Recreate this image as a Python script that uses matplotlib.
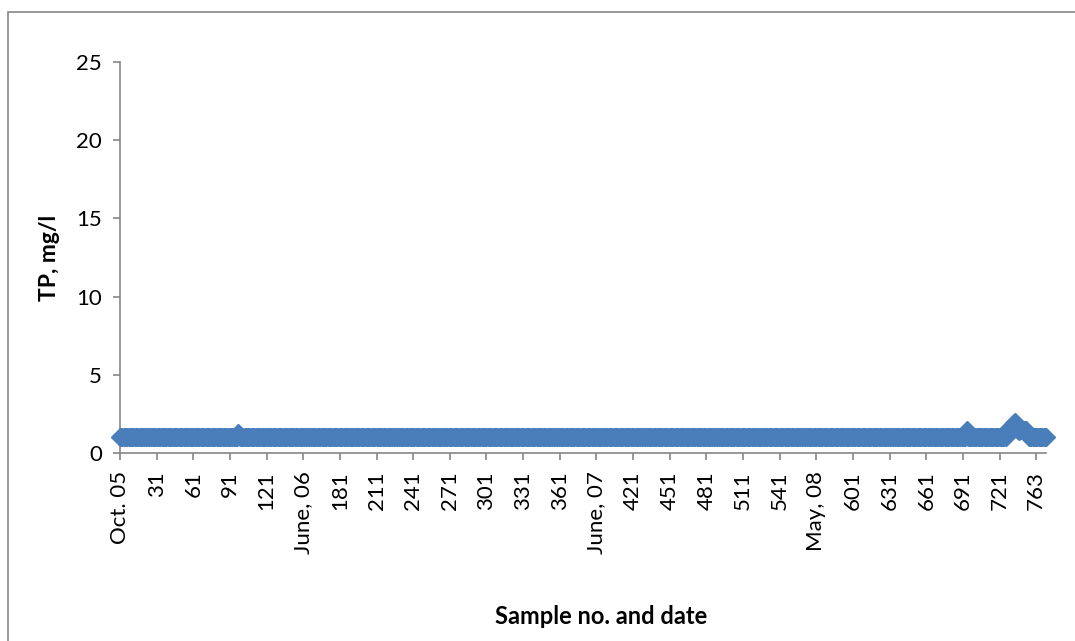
import matplotlib.pyplot as plt
from matplotlib.patches import Rectangle
import numpy as np

# samples (category positions) and TP values, mg/l
n_samples = 759
tp_base = 1.0
# samples with readings above the base level (index: value)
tp_peaks = {97: 1.3, 693: 1.5,
            726: 1.5, 727: 1.5, 728: 1.35, 729: 1.4, 730: 1.5, 731: 1.7,
            732: 1.9, 733: 2.0, 734: 1.8, 735: 1.5, 736: 1.4, 737: 1.45,
            738: 1.5, 739: 1.5, 740: 1.5, 741: 1.5, 742: 1.45, 743: 1.3}

tick_pos = list(range(0, 751, 30))
tick_labels = ['Oct. 05', '31', '61', '91', '121', 'June, 06', '181', '211', '241',
               '271', '301', '331', '361', 'June, 07', '421', '451', '481', '511',
               '541', 'May, 08', '601', '631', '661', '691', '721', '763']
y_ticks = [0, 5, 10, 15, 20, 25]

tp = np.full(n_samples, tp_base)
for k, v in tp_peaks.items():
    tp[k] = v
x = np.arange(n_samples)

plt.rcParams['font.family'] = ['Lato', 'DejaVu Sans']
fig = plt.figure(figsize=(10.75, 6.41), dpi=100)
ax = fig.add_axes([120/1075, 1 - 453/641, (1046 - 120)/1075, (453 - 62)/641])

ax.plot(x, tp, 'D', ms=9, color='#4a7ebb', mec='#4a7ebb', clip_on=False, zorder=3)

ax.set_xlim(0, n_samples - 1)
ax.set_ylim(0, 25)
ax.set_yticks(y_ticks)
ax.set_xticks(tick_pos)
ax.set_xticklabels(tick_labels, rotation=90)

for s in ['top', 'right']:
    ax.spines[s].set_visible(False)
for s in ['left', 'bottom']:
    ax.spines[s].set_color('#868686')
    ax.spines[s].set_linewidth(1.2)
ax.tick_params(axis='both', colors='#868686', labelcolor='black', labelsize=16,
               length=5, width=1.2)
ax.tick_params(axis='y', pad=8)
ax.tick_params(axis='x', pad=8)

ax.set_ylabel('TP, mg/l', fontsize=16.5, fontweight='bold', labelpad=12)
fig.text(601/1075, 1 - 617/641, 'Sample no. and date', fontsize=17,
         fontweight='bold', ha='center', va='center')

# chart area border (runs off the right and bottom edges)
fig.patches.append(Rectangle((7.5/1075, -0.05), 1.1, 1.05 - 11.5/641,
                             transform=fig.transFigure, fill=False,
                             edgecolor='#868686', linewidth=1.2))

fig.savefig('out.png', dpi=100)
